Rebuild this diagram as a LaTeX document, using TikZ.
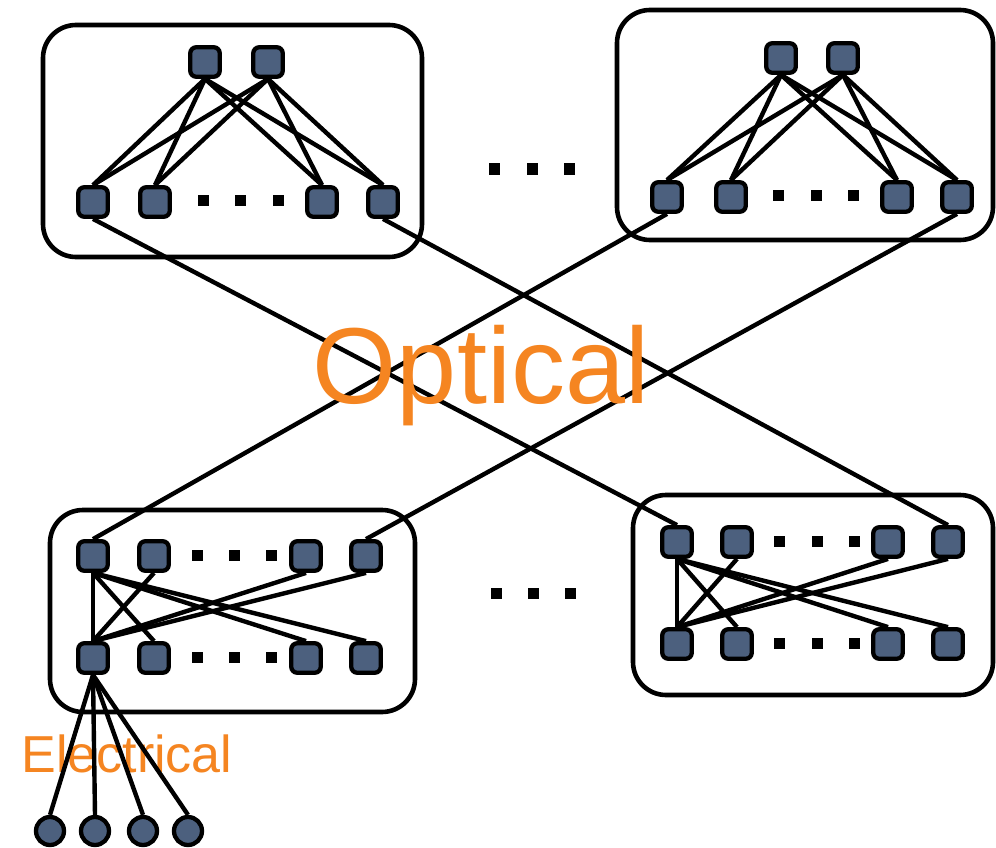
\documentclass[tikz,border=0pt]{standalone}
\usepackage{fontspec}
\setmainfont{Liberation Sans}
\usetikzlibrary{backgrounds}
\definecolor{nodefill}{RGB}{76,96,126}
\definecolor{lblorange}{RGB}{245,133,33}
\begin{document}
\begin{tikzpicture}[x=1pt,y=-1pt,
  sw/.style={draw=black, line width=4.3pt, fill=nodefill, rounded corners=6pt, minimum size=29.5pt, inner sep=0pt},
  host/.style={draw=black, line width=4.3pt, fill=nodefill, circle, minimum size=28pt, inner sep=0pt},
  dotsq/.style={fill=black, minimum size=11pt, inner sep=0pt},
  link/.style={line width=4.4pt, draw=black},
  pod/.style={draw=black, line width=4.6pt, rounded corners=33pt},
  lbl/.style={text=lblorange, inner sep=0pt, anchor=base}]
\useasboundingbox (0,0) rectangle (996,848);
% top-left pod
\node[sw] (a1) at (205,62) {};
\node[sw] (a2) at (268,62) {};
\node[sw] (b1) at (93,202) {};
\node[sw] (b2) at (155,202) {};
\node[sw] (b3) at (322,202) {};
\node[sw] (b4) at (383,202) {};
\node[dotsq] (bd1) at (203,200) {};
\node[dotsq] (bd2) at (240,200) {};
\node[dotsq] (bd3) at (278,200) {};
% top-right pod
\node[sw] (c1) at (781,58) {};
\node[sw] (c2) at (843,58) {};
\node[sw] (d1) at (667,197) {};
\node[sw] (d2) at (731,197) {};
\node[sw] (d3) at (897,197) {};
\node[sw] (d4) at (957,197) {};
\node[dotsq] (dd1) at (778,195) {};
\node[dotsq] (dd2) at (816,195) {};
\node[dotsq] (dd3) at (853,195) {};
% bottom-left pod
\node[sw] (e1) at (93,556) {};
\node[sw] (e2) at (154,556) {};
\node[sw] (e3) at (306,556) {};
\node[sw] (e4) at (366,556) {};
\node[sw] (f1) at (93,658) {};
\node[sw] (f2) at (154,658) {};
\node[sw] (f3) at (306,658) {};
\node[sw] (f4) at (366,658) {};
\node[dotsq] (ed1) at (197,555) {};
\node[dotsq] (ed2) at (234,555) {};
\node[dotsq] (ed3) at (271,555) {};
\node[dotsq] (fd1) at (197,657) {};
\node[dotsq] (fd2) at (234,657) {};
\node[dotsq] (fd3) at (271,657) {};
% bottom-right pod
\node[sw] (g1) at (677,542) {};
\node[sw] (g2) at (737,542) {};
\node[sw] (g3) at (888,542) {};
\node[sw] (g4) at (948,542) {};
\node[sw] (h1) at (677,644) {};
\node[sw] (h2) at (737,644) {};
\node[sw] (h3) at (888,644) {};
\node[sw] (h4) at (948,644) {};
\node[dotsq] (gd1) at (779,541) {};
\node[dotsq] (gd2) at (817,541) {};
\node[dotsq] (gd3) at (854,541) {};
\node[dotsq] (hd1) at (779,643) {};
\node[dotsq] (hd2) at (817,643) {};
\node[dotsq] (hd3) at (854,643) {};
% dots between pods
\node[dotsq] (td1) at (494,169) {};
\node[dotsq] (td2) at (532,169) {};
\node[dotsq] (td3) at (569,169) {};
\node[dotsq] (ud1) at (496,593) {};
\node[dotsq] (ud2) at (533,593) {};
\node[dotsq] (ud3) at (570,593) {};
% hosts
\node[host] (i1) at (50,831) {};
\node[host] (i2) at (95,831) {};
\node[host] (i3) at (143,831) {};
\node[host] (i4) at (188,831) {};
% optical label on top
\node[lbl] (opt) at (481,403) {\fontsize{108}{110}\selectfont Optical};
\begin{pgfonlayer}{background}
  \fill[white] (0,0) rectangle (996,848);
  \draw[pod] (43,25) rectangle (422,257);
  \draw[pod] (617,10) rectangle (993,240);
  \draw[pod] (50,510) rectangle (415,712);
  \draw[pod] (633,495) rectangle (993,695);
  \node[lbl] (elec) at (127,772) {\fontsize{52}{54}\selectfont Electrical};
  % top-left pod links
  \foreach \t in {a1,a2} \foreach \b in {b1,b2,b3,b4} \draw[link] (\t.south) -- (\b.north);
  % top-right pod links
  \foreach \t in {c1,c2} \foreach \b in {d1,d2,d3,d4} \draw[link] (\t.south) -- (\b.north);
  % bottom-left pod links
  \foreach \b in {f1,f2,f3,f4} \draw[link] (e1.south) -- (\b.north);
  \foreach \t in {e2,e3,e4} \draw[link] (f1.north) -- (\t.south);
  % bottom-right pod links
  \foreach \b in {h1,h2,h3,h4} \draw[link] (g1.south) -- (\b.north);
  \foreach \t in {g2,g3,g4} \draw[link] (h1.north) -- (\t.south);
  % optical links
  \draw[link] (b1.south) -- (g1.north);
  \draw[link] (b4.south) -- (g4.north);
  \draw[link] (e1.north) -- (d1.south);
  \draw[link] (e4.north) -- (d4.south);
  % electrical links
  \foreach \h in {i1,i2,i3,i4} \draw[link] (f1.south) -- (\h.north);
\end{pgfonlayer}
\end{tikzpicture}
\end{document}
